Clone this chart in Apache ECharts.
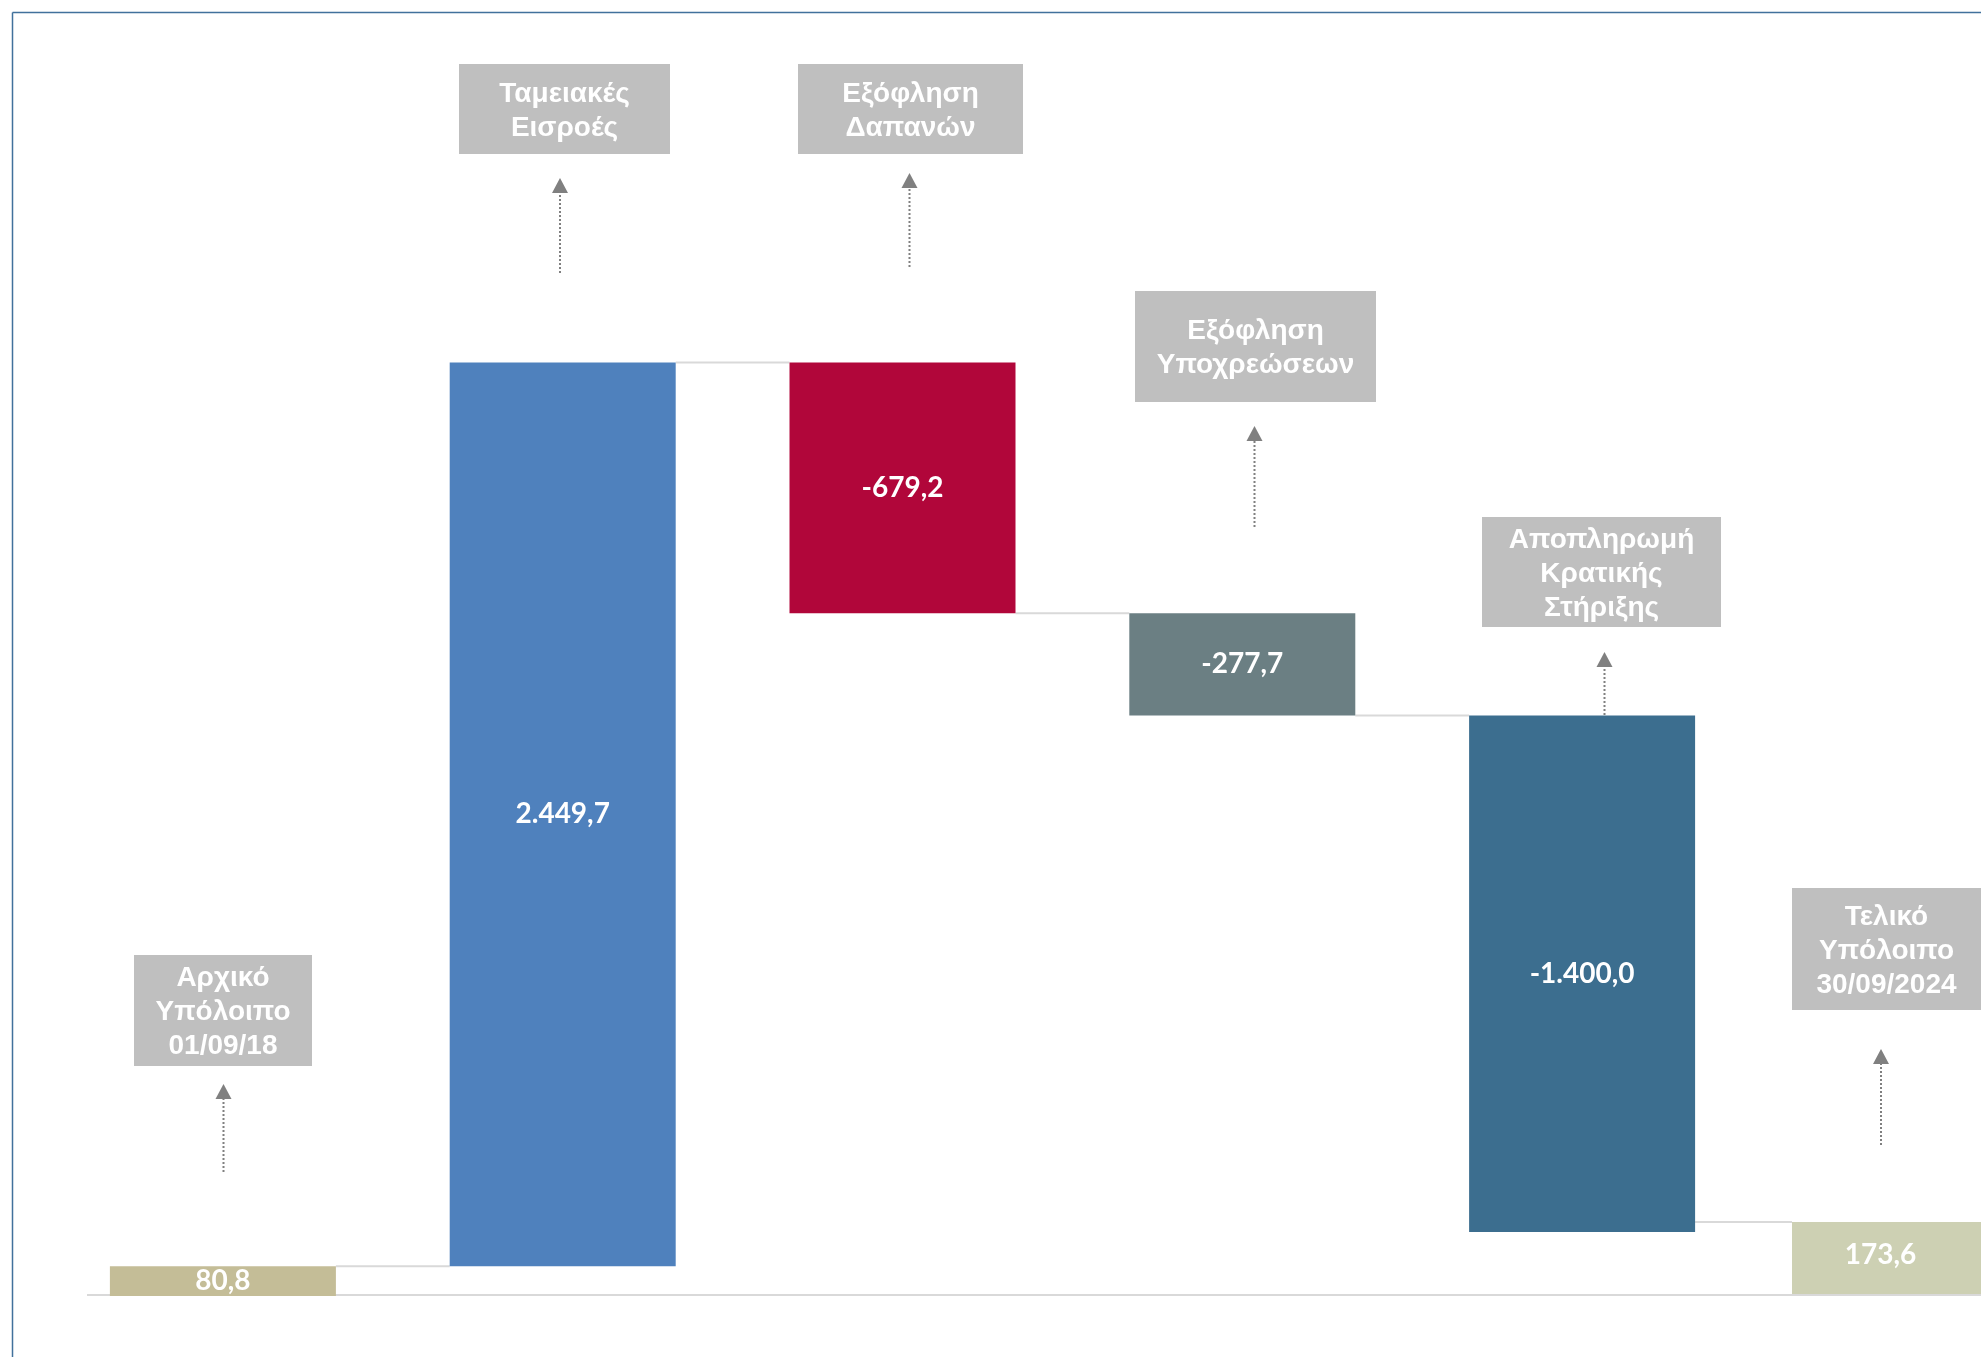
<!DOCTYPE html>
<html><head><meta charset="utf-8">
<script src="https://cdn.jsdelivr.net/npm/echarts@6/dist/echarts.min.js"></script>
<style>html,body{margin:0;padding:0;background:#fff}#chart{width:1981px;height:1357px}</style>
</head><body><div id="chart"></div>
<script>
// ---- data ----
const categories = ['Αρχικό\nΥπόλοιπο\n01/09/18', 'Ταμειακές\nΕισροές', 'Εξόφληση\nΔαπανών', 'Εξόφληση\nΥποχρεώσεων', 'Αποπληρωμή\nΚρατικής\nΣτήριξης', 'Τελικό\nΥπόλοιπο\n30/09/2024'];
const flowValues = [80.8, 2449.7, -679.2, -277.7, -1400.0];
const finalValue = [173.6];
const barColors = ['#c4bd97', '#4f81bd', '#b1063a', '#6b7f83', '#3c6e8f', '#cdd0b3'];
const yMin = 0, yMax = 3500;
const yMaxFinal = 3110; // the final-balance column is drawn at a slightly larger scale in the source

// ---- layout of annotations (pixels) ----
const boxLayout = [
  {x:134, y:955, w:178, h:111},
  {x:459, y:64,  w:211, h:90},
  {x:798, y:64,  w:225, h:90},
  {x:1135,y:291, w:241, h:111},
  {x:1482,y:517, w:239, h:110},
  {x:1792,y:888, w:189, h:122}
];
const arrowLayout = [
  {x:223.5, tip:1084, bottom:1172},
  {x:560,   tip:178,  bottom:273},
  {x:909.5, tip:173,  bottom:267},
  {x:1254.5,tip:426,  bottom:527},
  {x:1604.5,tip:652,  bottom:715},
  {x:1881,  tip:1049, bottom:1145}
];
const BAR_W = 226;
const GRID1_LEFT = 1792;

function fmt(v){
  const neg = v < 0;
  let [i, d] = Math.abs(v).toFixed(1).split('.');
  i = i.replace(/\B(?=(\d{3})+(?!\d))/g, '.');
  return (neg ? '-' : '') + i + ',' + d;
}

const bases = [], heights = [], cum = [];
let run = 0;
flowValues.forEach(v => {
  const start = run; run += v;
  bases.push(Math.min(start, run));
  heights.push(Math.abs(v));
  cum.push(run);
});

const labelStyle = {show:true, position:'inside', color:'#ffffff', fontFamily:'Lato', fontWeight:'bold', fontSize:28};

const chart = echarts.init(document.getElementById('chart'));
chart.setOption({
  animation:false,
  backgroundColor:'#ffffff',
  grid:[
    {left:53, width:1699, top:5, bottom:61},
    {left:GRID1_LEFT, width:BAR_W, top:5, bottom:63}
  ],
  xAxis:[
    {type:'category', gridIndex:0, data:categories.slice(0,5), show:false},
    {type:'category', gridIndex:1, data:categories.slice(5), show:false}
  ],
  yAxis:[
    {type:'value', gridIndex:0, min:yMin, max:yMax, show:false, splitLine:{show:false}},
    {type:'value', gridIndex:1, min:yMin, max:yMaxFinal, show:false, splitLine:{show:false}}
  ],
  series:[
    {type:'bar', xAxisIndex:0, yAxisIndex:0, stack:'w', barWidth:BAR_W, data:bases,
      itemStyle:{color:'transparent'}, silent:true},
    {type:'bar', xAxisIndex:0, yAxisIndex:0, stack:'w', barWidth:BAR_W,
      data:heights.map((h,i)=>({value:h, itemStyle:{color:barColors[i]}})),
      label:Object.assign({}, labelStyle, {formatter:p=>fmt(flowValues[p.dataIndex])})},
    {type:'bar', xAxisIndex:1, yAxisIndex:1, barWidth:BAR_W,
      data:finalValue.map(v=>({value:v, itemStyle:{color:barColors[5]}})),
      label:Object.assign({}, labelStyle, {offset:[-6, -3], formatter:p=>fmt(p.value)})}
  ]
});

const model = chart.getModel();
const lay = (s, i) => model.getSeriesByIndex(s).getData().getItemLayout(i);
const px = (g, c, v) => chart.convertToPixel({gridIndex:g}, [c, v]);
const gfx = [];
// frame
gfx.push({type:'line', z:0, shape:{x1:12.5, y1:12.5, x2:1981, y2:12.5}, style:{stroke:'#41719c', lineWidth:1.5}});
gfx.push({type:'line', z:0, shape:{x1:12.5, y1:12.5, x2:12.5, y2:1357}, style:{stroke:'#41719c', lineWidth:1.5}});
// baseline
const y0 = px(0,0,0)[1];
gfx.push({type:'line', z:0, shape:{x1:87, y1:y0-1, x2:1981, y2:y0-1}, style:{stroke:'#d9d9d9', lineWidth:2}});
// connectors
for (let i = 0; i < 4; i++) {
  const a = lay(1, i), b = lay(1, i+1);
  const y = px(0, i, cum[i])[1];
  gfx.push({type:'line', z:0, shape:{x1:a.x + a.width, y1:y, x2:b.x, y2:y}, style:{stroke:'#d9d9d9', lineWidth:2}});
}
{
  const a = lay(1, 4);
  const y = px(1, 0, finalValue[0])[1];
  gfx.push({type:'line', z:0, shape:{x1:a.x + a.width, y1:y, x2:GRID1_LEFT, y2:y}, style:{stroke:'#d9d9d9', lineWidth:2}});
}
// annotation boxes
boxLayout.forEach((b, i) => {
  gfx.push({type:'rect', z:5, shape:{x:b.x, y:b.y, width:b.w, height:b.h}, style:{fill:'#bfbfbf'}});
  gfx.push({type:'text', z:6, x:b.x + b.w/2, y:b.y + b.h/2 + 2,
    style:{text:categories[i], fill:'#ffffff', font:'bold 28px "Liberation Sans", Arial, sans-serif',
      align:'center', verticalAlign:'middle', lineHeight:34}});
});
// arrows
arrowLayout.forEach(a => {
  gfx.push({type:'line', z:5, shape:{x1:a.x, y1:a.bottom, x2:a.x, y2:a.tip+14}, style:{stroke:'#808080', lineWidth:2, lineDash:[2,2]}});
  gfx.push({type:'polygon', z:5, shape:{points:[[a.x, a.tip], [a.x-8, a.tip+15], [a.x+8, a.tip+15]]}, style:{fill:'#808080'}});
});
chart.setOption({graphic:{elements:gfx}});
</script>
</body></html>
